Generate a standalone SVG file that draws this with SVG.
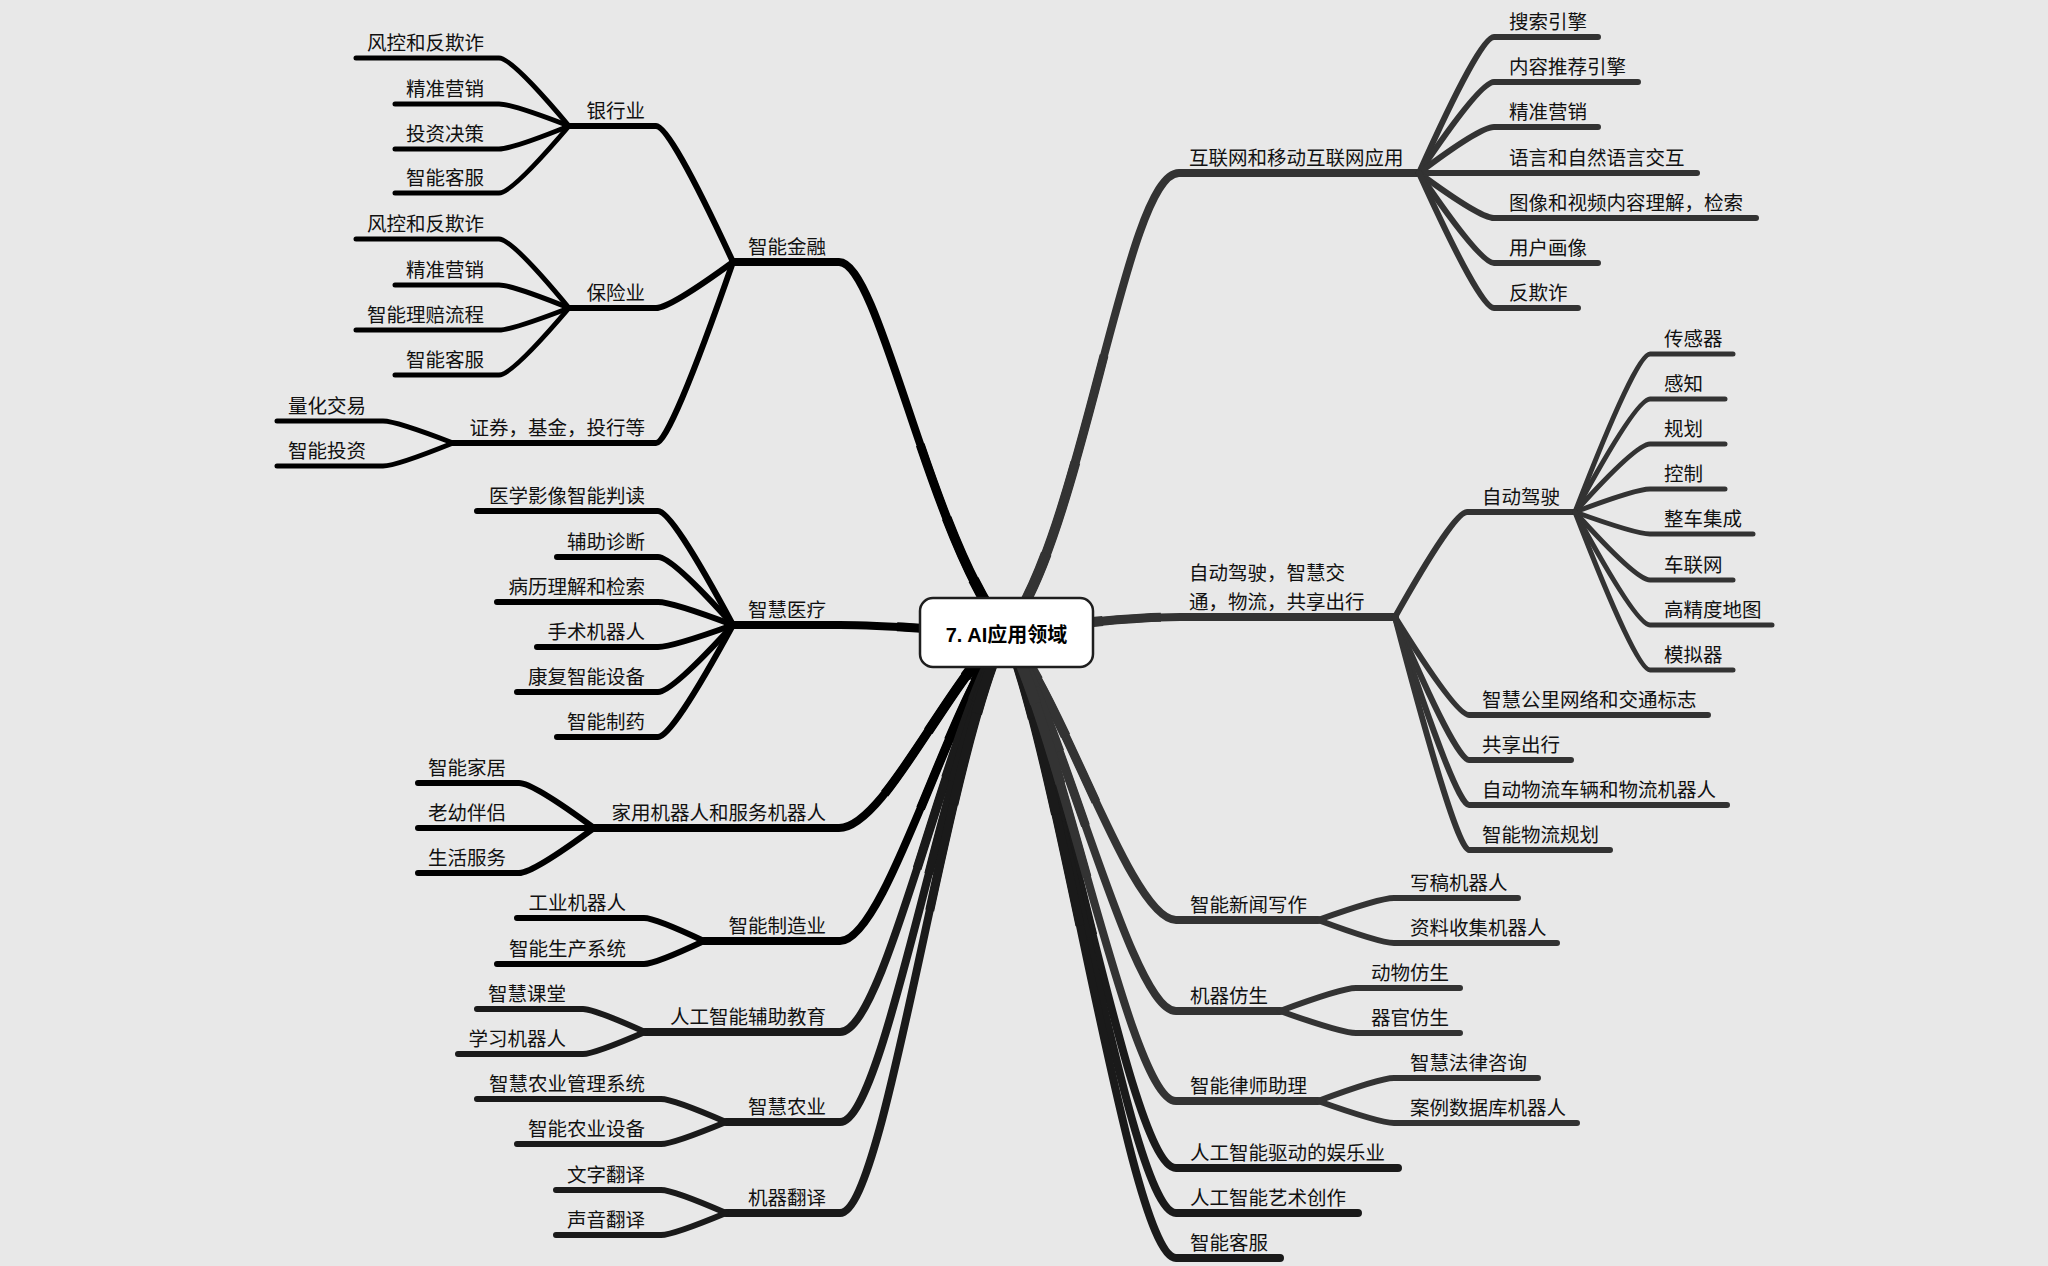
<svg xmlns="http://www.w3.org/2000/svg" width="2048" height="1266" viewBox="0 0 2048 1266">
<style>
.bg{fill:#e8e8e8}
.c{fill:none;stroke-linecap:round;stroke-linejoin:round}
.k{stroke:#000}
.d{stroke:#333}
.m{stroke:#1a1a1a}
.w1{stroke-width:8}
.w2{stroke-width:6}
.w3{stroke-width:5}
.ta{stroke-width:9;stroke-dasharray:40 200;stroke-linecap:butt}
.tb{stroke-width:10;stroke-dasharray:25 200;stroke-linecap:butt}
.tc{stroke-width:11;stroke-dasharray:12 200;stroke-linecap:butt}
text{font-family:"Noto Sans CJK SC","Noto Sans",sans-serif;font-size:19.5px;fill:#111}
.e{text-anchor:end}
.root-box{fill:#fff;stroke:#1e1e1e;stroke-width:2.5}
.root-t{font-family:"Liberation Sans","Noto Sans CJK SC",sans-serif;font-weight:bold;font-size:20px;text-anchor:middle;fill:#000}
</style>
<defs>
<path id="b1" pathLength="100" d="M1006 632 C930 540 880 262 839 262 L733 262"/>
<path id="b2" pathLength="100" d="M1006 632 C950 632 900 625 840 625 L733 625"/>
<path id="b3" pathLength="100" d="M1006 632 C952 671 885 828 839 828 L594 828"/>
<path id="b4" pathLength="100" d="M1006 632 C952 694 886 941 840 941 L704 941"/>
<path id="b5" pathLength="100" d="M1006 632 C950 712 886 1032 840 1032 L645 1032"/>
<path id="b6" pathLength="100" d="M1006 632 C948 730 886 1122 840 1122 L726 1122"/>
<path id="b7" pathLength="100" d="M1006 632 C946 748 886 1213 840 1213 L726 1213"/>
<path id="b8" pathLength="100" d="M1006 632 C1082 540 1125 173 1179 173 L1419 173"/>
<path id="b9" pathLength="100" d="M1006 632 C1070 626 1110 617 1180 617 L1395 617"/>
<path id="b10" pathLength="100" d="M1006 632 C1060 690 1130 920 1176 920 L1318 920"/>
<path id="b11" pathLength="100" d="M1006 632 C1060 708 1130 1011 1176 1011 L1280 1011"/>
<path id="b12" pathLength="100" d="M1006 632 C1060 726 1130 1101 1176 1101 L1318 1101"/>
<path id="b13" pathLength="100" d="M1006 632 C1060 739 1130 1168 1176 1168 L1398 1168"/>
<path id="b14" pathLength="100" d="M1006 632 C1060 748 1130 1213 1176 1213 L1358 1213"/>
<path id="b15" pathLength="100" d="M1006 632 C1060 757 1130 1258 1176 1258 L1280 1258"/>
</defs>
<rect class="bg" x="0" y="0" width="2048" height="1266"/>

<g id="connectors" class="c">
  <g class="k">
    <use href="#b1" class="w1"/><use href="#b1" class="ta"/><use href="#b1" class="tb"/><use href="#b1" class="tc"/>
    <use href="#b2" class="w1"/><use href="#b2" class="ta"/><use href="#b2" class="tb"/><use href="#b2" class="tc"/>
    <use href="#b3" class="w1"/><use href="#b3" class="ta"/><use href="#b3" class="tb"/><use href="#b3" class="tc"/>
    <use href="#b4" class="w1"/><use href="#b4" class="ta"/><use href="#b4" class="tb"/><use href="#b4" class="tc"/>
    <path class="w2" d="M733 262 Q670 126 656 126 L569 126"/>
    <path class="w2" d="M733 262 Q670 308 656 308 L569 308"/>
    <path class="w2" d="M733 262 Q670 443 656 443 L453 443"/>
    <path class="w3" d="M569 126 Q512 58 499 58 L356 58"/>
    <path class="w3" d="M569 126 Q512 104 499 104 L395 104"/>
    <path class="w3" d="M569 126 Q512 149 499 149 L395 149"/>
    <path class="w3" d="M569 126 Q512 193 499 193 L395 193"/>
    <path class="w3" d="M569 308 Q512 239 499 239 L356 239"/>
    <path class="w3" d="M569 308 Q512 285 499 285 L395 285"/>
    <path class="w3" d="M569 308 Q512 330 499 330 L356 330"/>
    <path class="w3" d="M569 308 Q512 375 499 375 L395 375"/>
    <path class="w3" d="M453 443 Q396 421 383 421 L277 421"/>
    <path class="w3" d="M453 443 Q396 466 383 466 L277 466"/>
    <path class="w2" d="M733 625 Q672 511 658 511 L477 511"/>
    <path class="w2" d="M733 625 Q672 557 658 557 L557 557"/>
    <path class="w2" d="M733 625 Q672 602 658 602 L497 602"/>
    <path class="w2" d="M733 625 Q672 647 658 647 L537 647"/>
    <path class="w2" d="M733 625 Q672 692 658 692 L517 692"/>
    <path class="w2" d="M733 625 Q672 737 658 737 L557 737"/>
    <path class="w2" d="M594 828 Q533 783 519 783 L418 783"/>
    <path class="w2" d="M594 828 Q533 828 519 828 L418 828"/>
    <path class="w2" d="M594 828 Q533 873 519 873 L418 873"/>
    <path class="w2" d="M704 941 Q655 918 644 918 L517 918"/>
    <path class="w2" d="M704 941 Q655 964 644 964 L497 964"/>
  </g>
  <g class="m">
    <use href="#b5" class="w1"/><use href="#b5" class="ta"/><use href="#b5" class="tb"/><use href="#b5" class="tc"/>
    <use href="#b6" class="w1"/><use href="#b6" class="ta"/><use href="#b6" class="tb"/><use href="#b6" class="tc"/>
    <use href="#b7" class="w1"/><use href="#b7" class="ta"/><use href="#b7" class="tb"/><use href="#b7" class="tc"/>
    <path class="w2" d="M645 1032 Q594 1009 583 1009 L477 1009"/>
    <path class="w2" d="M645 1032 Q594 1054 583 1054 L458 1054"/>
    <path class="w2" d="M726 1122 Q673 1099 661 1099 L477 1099"/>
    <path class="w2" d="M726 1122 Q673 1144 661 1144 L517 1144"/>
    <path class="w2" d="M726 1213 Q673 1190 661 1190 L556 1190"/>
    <path class="w2" d="M726 1213 Q673 1235 661 1235 L556 1235"/>
    <use href="#b13" class="w1"/><use href="#b13" class="ta"/><use href="#b13" class="tb"/><use href="#b13" class="tc"/>
    <use href="#b14" class="w1"/><use href="#b14" class="ta"/><use href="#b14" class="tb"/><use href="#b14" class="tc"/>
    <use href="#b15" class="w1"/><use href="#b15" class="ta"/><use href="#b15" class="tb"/><use href="#b15" class="tc"/>
  </g>
  <g class="d">
    <use href="#b8" class="w1"/><use href="#b8" class="ta"/><use href="#b8" class="tb"/><use href="#b8" class="tc"/>
    <use href="#b9" class="w1"/><use href="#b9" class="ta"/><use href="#b9" class="tb"/><use href="#b9" class="tc"/>
    <use href="#b10" class="w1"/><use href="#b10" class="ta"/><use href="#b10" class="tb"/><use href="#b10" class="tc"/>
    <use href="#b11" class="w1"/><use href="#b11" class="ta"/><use href="#b11" class="tb"/><use href="#b11" class="tc"/>
    <use href="#b12" class="w1"/><use href="#b12" class="ta"/><use href="#b12" class="tb"/><use href="#b12" class="tc"/>
    <path class="w2" d="M1419 173 Q1480 37 1494 37 L1598 37"/>
    <path class="w2" d="M1419 173 Q1480 82 1494 82 L1638 82"/>
    <path class="w2" d="M1419 173 Q1480 127 1494 127 L1598 127"/>
    <path class="w2" d="M1419 173 L1697 173"/>
    <path class="w2" d="M1419 173 Q1480 218 1494 218 L1756 218"/>
    <path class="w2" d="M1419 173 Q1480 263 1494 263 L1598 263"/>
    <path class="w2" d="M1419 173 Q1480 308 1494 308 L1578 308"/>
    <path class="w2" d="M1395 617 Q1454 512 1467 512 L1575 512"/>
    <path class="w2" d="M1395 617 Q1456 715 1469 715 L1708 715"/>
    <path class="w2" d="M1395 617 Q1456 760 1469 760 L1571 760"/>
    <path class="w2" d="M1395 617 Q1456 805 1469 805 L1727 805"/>
    <path class="w2" d="M1395 617 Q1456 850 1469 850 L1610 850"/>
    <path class="w3" d="M1575 512 Q1636 354 1650 354 L1733 354"/>
    <path class="w3" d="M1575 512 Q1636 399 1650 399 L1725 399"/>
    <path class="w3" d="M1575 512 Q1636 444 1650 444 L1725 444"/>
    <path class="w3" d="M1575 512 Q1636 489 1650 489 L1725 489"/>
    <path class="w3" d="M1575 512 Q1636 534 1650 534 L1753 534"/>
    <path class="w3" d="M1575 512 Q1636 580 1650 580 L1733 580"/>
    <path class="w3" d="M1575 512 Q1636 625 1650 625 L1772 625"/>
    <path class="w3" d="M1575 512 Q1636 670 1650 670 L1733 670"/>
    <path class="w2" d="M1318 920 Q1380 898 1394 898 L1518 898"/>
    <path class="w2" d="M1318 920 Q1380 943 1394 943 L1557 943"/>
    <path class="w2" d="M1280 1011 Q1342 988 1356 988 L1460 988"/>
    <path class="w2" d="M1280 1011 Q1342 1033 1356 1033 L1460 1033"/>
    <path class="w2" d="M1318 1101 Q1380 1078 1394 1078 L1538 1078"/>
    <path class="w2" d="M1318 1101 Q1380 1123 1394 1123 L1577 1123"/>
  </g>
</g>

<g id="n-finance"><text class="e" x="826" y="254">智能金融</text></g>
<g id="n-bank"><text class="e" x="645" y="118">银行业</text></g>
<g id="n-bank-1"><text class="e" x="484" y="50">风控和反欺诈</text></g>
<g id="n-bank-2"><text class="e" x="484" y="96">精准营销</text></g>
<g id="n-bank-3"><text class="e" x="484" y="141">投资决策</text></g>
<g id="n-bank-4"><text class="e" x="484" y="185">智能客服</text></g>
<g id="n-insur"><text class="e" x="645" y="300">保险业</text></g>
<g id="n-insur-1"><text class="e" x="484" y="231">风控和反欺诈</text></g>
<g id="n-insur-2"><text class="e" x="484" y="277">精准营销</text></g>
<g id="n-insur-3"><text class="e" x="484" y="322">智能理赔流程</text></g>
<g id="n-insur-4"><text class="e" x="484" y="367">智能客服</text></g>
<g id="n-sec"><text class="e" x="645" y="435">证券，基金，投行等</text></g>
<g id="n-sec-1"><text class="e" x="366" y="413">量化交易</text></g>
<g id="n-sec-2"><text class="e" x="366" y="458">智能投资</text></g>

<g id="n-medical"><text class="e" x="826" y="617">智慧医疗</text></g>
<g id="n-med-1"><text class="e" x="645" y="503">医学影像智能判读</text></g>
<g id="n-med-2"><text class="e" x="645" y="549">辅助诊断</text></g>
<g id="n-med-3"><text class="e" x="645" y="594">病历理解和检索</text></g>
<g id="n-med-4"><text class="e" x="645" y="639">手术机器人</text></g>
<g id="n-med-5"><text class="e" x="645" y="684">康复智能设备</text></g>
<g id="n-med-6"><text class="e" x="645" y="729">智能制药</text></g>

<g id="n-home"><text class="e" x="826" y="820">家用机器人和服务机器人</text></g>
<g id="n-home-1"><text class="e" x="506" y="775">智能家居</text></g>
<g id="n-home-2"><text class="e" x="506" y="820">老幼伴侣</text></g>
<g id="n-home-3"><text class="e" x="506" y="865">生活服务</text></g>

<g id="n-manuf"><text class="e" x="826" y="933">智能制造业</text></g>
<g id="n-manuf-1"><text class="e" x="626" y="910">工业机器人</text></g>
<g id="n-manuf-2"><text class="e" x="626" y="956">智能生产系统</text></g>

<g id="n-edu"><text class="e" x="826" y="1024">人工智能辅助教育</text></g>
<g id="n-edu-1"><text class="e" x="566" y="1001">智慧课堂</text></g>
<g id="n-edu-2"><text class="e" x="566" y="1046">学习机器人</text></g>

<g id="n-agri"><text class="e" x="826" y="1114">智慧农业</text></g>
<g id="n-agri-1"><text class="e" x="645" y="1091">智慧农业管理系统</text></g>
<g id="n-agri-2"><text class="e" x="645" y="1136">智能农业设备</text></g>

<g id="n-trans"><text class="e" x="826" y="1205">机器翻译</text></g>
<g id="n-trans-1"><text class="e" x="645" y="1182">文字翻译</text></g>
<g id="n-trans-2"><text class="e" x="645" y="1227">声音翻译</text></g>

<g id="n-internet"><text x="1189" y="165">互联网和移动互联网应用</text></g>
<g id="n-int-1"><text x="1509" y="29">搜索引擎</text></g>
<g id="n-int-2"><text x="1509" y="74">内容推荐引擎</text></g>
<g id="n-int-3"><text x="1509" y="119">精准营销</text></g>
<g id="n-int-4"><text x="1509" y="165">语言和自然语言交互</text></g>
<g id="n-int-5"><text x="1509" y="210">图像和视频内容理解，检索</text></g>
<g id="n-int-6"><text x="1509" y="255">用户画像</text></g>
<g id="n-int-7"><text x="1509" y="300">反欺诈</text></g>

<g id="n-traffic"><text x="1189" y="580">自动驾驶，智慧交</text><text x="1189" y="609">通，物流，共享出行</text></g>
<g id="n-auto"><text x="1482" y="504">自动驾驶</text></g>
<g id="n-auto-1"><text x="1664" y="346">传感器</text></g>
<g id="n-auto-2"><text x="1664" y="391">感知</text></g>
<g id="n-auto-3"><text x="1664" y="436">规划</text></g>
<g id="n-auto-4"><text x="1664" y="481">控制</text></g>
<g id="n-auto-5"><text x="1664" y="526">整车集成</text></g>
<g id="n-auto-6"><text x="1664" y="572">车联网</text></g>
<g id="n-auto-7"><text x="1664" y="617">高精度地图</text></g>
<g id="n-auto-8"><text x="1664" y="662">模拟器</text></g>
<g id="n-traffic-1"><text x="1482" y="707">智慧公里网络和交通标志</text></g>
<g id="n-traffic-2"><text x="1482" y="752">共享出行</text></g>
<g id="n-traffic-3"><text x="1482" y="797">自动物流车辆和物流机器人</text></g>
<g id="n-traffic-4"><text x="1482" y="842">智能物流规划</text></g>

<g id="n-news"><text x="1190" y="912">智能新闻写作</text></g>
<g id="n-news-1"><text x="1410" y="890">写稿机器人</text></g>
<g id="n-news-2"><text x="1410" y="935">资料收集机器人</text></g>
<g id="n-bionic"><text x="1190" y="1003">机器仿生</text></g>
<g id="n-bionic-1"><text x="1371" y="980">动物仿生</text></g>
<g id="n-bionic-2"><text x="1371" y="1025">器官仿生</text></g>
<g id="n-law"><text x="1190" y="1093">智能律师助理</text></g>
<g id="n-law-1"><text x="1410" y="1070">智慧法律咨询</text></g>
<g id="n-law-2"><text x="1410" y="1115">案例数据库机器人</text></g>
<g id="n-ent"><text x="1190" y="1160">人工智能驱动的娱乐业</text></g>
<g id="n-art"><text x="1190" y="1205">人工智能艺术创作</text></g>
<g id="n-cs"><text x="1190" y="1250">智能客服</text></g>

<g id="n-root">
  <rect class="root-box" x="920" y="598" width="173" height="69" rx="13"/>
  <text class="root-t" x="1006.5" y="642">7. AI应用领域</text>
</g>
</svg>
